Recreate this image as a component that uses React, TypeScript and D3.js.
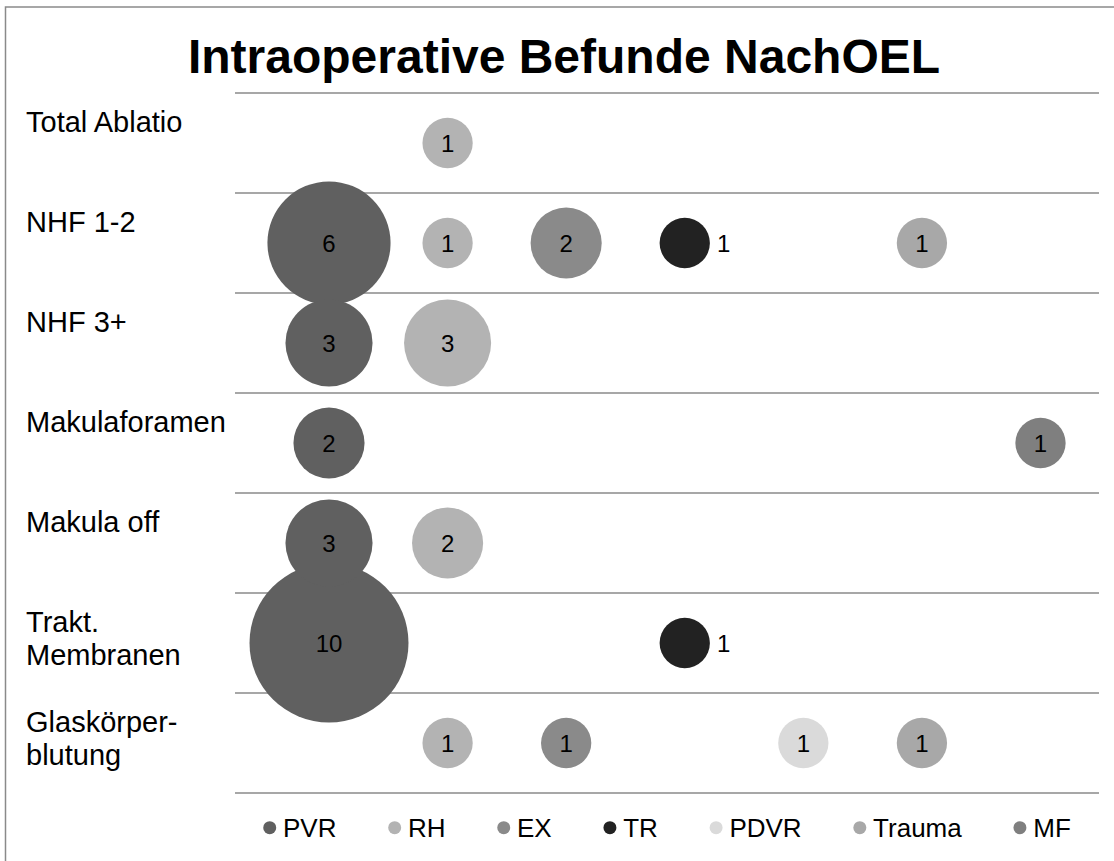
import React, { FC, useMemo } from 'react'
import * as d3 from 'd3'

// row labels (| = line break), top to bottom
const categories = [
	'Total Ablatio',
	'NHF 1-2',
	'NHF 3+',
	'Makulaforamen',
	'Makula off',
	'Trakt.|Membranen',
	'Glaskörper-|blutung'
]
const seriesNames = ['PVR', 'RH', 'EX', 'TR', 'PDVR', 'Trauma', 'MF']

// counts per row, null = no bubble
const pvr = [null, 6, 3, 2, 3, 10, null]
const rh = [1, 1, 3, null, 2, null, 1]
const ex = [null, 2, null, null, null, null, 1]
const tr = [null, 1, null, null, null, 1, null]
const pdvr = [null, null, null, null, null, null, 1]
const trauma = [null, 1, null, null, null, null, 1]
const mf = [null, null, null, 1, null, null, null]

const seriesValues = [pvr, rh, ex, tr, pdvr, trauma, mf]
const palette = ['#606060', '#b3b3b3', '#8a8a8a', '#222222', '#dadada', '#a8a8a8', '#7f7f7f']

const W = 1114
const H = 861
const FONT = '"Liberation Sans", Arial, sans-serif'

const measure = (text: string, font: string) => {
	const ctx = document.createElement('canvas').getContext('2d')
	if (!ctx) return text.length * 14
	ctx.font = font
	return ctx.measureText(text).width
}

const App: FC = () => {
	const plot = { left: 235, right: 1099, top: 93, bottom: 793 }

	const yScale = useMemo(() => {
		return d3.scaleBand<string>().domain(categories).range([plot.top, plot.bottom])
	}, [])

	const xScale = useMemo(() => {
		return d3.scalePoint<string>().domain(seriesNames).range([329, 1040.5])
	}, [])

	const rScale = useMemo(() => {
		return d3.scaleSqrt().domain([0, 10]).range([0, 79.5])
	}, [])

	const bubbles = useMemo(() => {
		const out: { s: number; c: number; v: number }[] = []
		seriesValues.forEach((vals, s) => {
			vals.forEach((v, c) => {
				if (v != null) out.push({ s, c, v })
			})
		})
		// big ones first so small ones stay on top
		return out.sort((a, b) => b.v - a.v)
	}, [])

	const gridYs = [...categories.map((c) => yScale(c) as number), plot.bottom]

	// legend layout, centered on plot area
	const legendFont = `26px ${FONT}`
	const textW = seriesNames.map((n) => measure(n, legendFont))
	const step = 71.5
	const legendTotal = 6.5 + 13.3 + d3.sum(textW) + step * (seriesNames.length - 1) - 13.3 * 0
	let lx = (plot.left + plot.right) / 2 - legendTotal / 2 + 6.5
	const legendPos = textW.map((w) => {
		const p = lx
		lx += w + step
		return p
	})

	return (
		<svg
			width={W}
			height={H}
			style={{ position: 'absolute', left: 0, top: 0, background: '#fff', fontFamily: FONT }}
		>
			<rect x={5.5} y={7} width={1118} height={900} fill="#fff" stroke="#8a8a8a" strokeWidth={1.5} />

			<text x={564} y={72.7} textAnchor="middle" fontSize={48} fontWeight="bold" fill="#000">
				Intraoperative Befunde NachOEL
			</text>

			{/* gridlines */}
			<g>
				{gridYs.map((y, i) => (
					<line key={i} x1={plot.left} x2={plot.right} y1={y} y2={y} stroke="#8a8a8a" strokeWidth={1.6} />
				))}
			</g>

			{/* row labels */}
			<g>
				{categories.map((c) => {
					const cy = (yScale(c) as number) + yScale.bandwidth() / 2
					return (
						<text key={c} x={26} y={cy - 11.5} fontSize={29} fill="#000">
							{c.split('|').map((line, j) => (
								<tspan key={j} x={26} dy={j === 0 ? 0 : 33.5}>
									{line}
								</tspan>
							))}
						</text>
					)
				})}
			</g>

			{/* bubbles */}
			<g>
				{bubbles.map((b, i) => (
					<circle
						key={i}
						cx={xScale(seriesNames[b.s])}
						cy={(yScale(categories[b.c]) as number) + yScale.bandwidth() / 2}
						r={rScale(b.v)}
						fill={palette[b.s]}
					/>
				))}
			</g>

			{/* value labels */}
			<g>
				{bubbles.map((b, i) => {
					const cx = xScale(seriesNames[b.s]) as number
					const cy = (yScale(categories[b.c]) as number) + yScale.bandwidth() / 2
					const dark = d3.hsl(palette[b.s]).l < 0.2
					return (
						<text
							key={i}
							x={dark ? cx + rScale(b.v) + 7 : cx}
							y={cy + 8.6}
							fontSize={24}
							textAnchor={dark ? 'start' : 'middle'}
							fill="#000"
						>
							{b.v}
						</text>
					)
				})}
			</g>

			{/* legend */}
			<g>
				{seriesNames.map((n, i) => (
					<g key={n}>
						<circle cx={legendPos[i]} cy={827.7} r={6.5} fill={palette[i]} />
						<text x={legendPos[i] + 13.3} y={836.7} fontSize={26} fill="#000">
							{n}
						</text>
					</g>
				))}
			</g>
		</svg>
	)
}

export default App
